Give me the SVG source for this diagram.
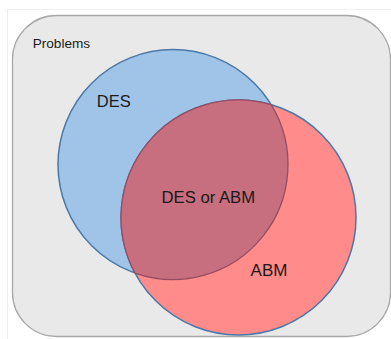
<svg xmlns="http://www.w3.org/2000/svg" width="391" height="339" viewBox="0 0 391 339">
  <style>
    .lbl { font-family: "Liberation Sans", Arial, sans-serif; fill: #1a1a1a; }
    .circle-stroke { stroke: #4a78a6; stroke-width: 1.5; }
  </style>
  <rect x="0" y="0" width="391" height="339" fill="#ffffff"/>
  <rect x="7.5" y="9.5" width="400" height="400" fill="none" stroke="#efefef" stroke-width="1"/>
  <g id="problems">
    <rect x="12.5" y="15.5" width="378" height="321" rx="44" ry="44" fill="#e9e9e9" stroke="#a8a8a8" stroke-width="1.3"/>
    <text class="lbl" x="32.7" y="48.3" font-size="13.6">Problems</text>
  </g>
  <g id="des">
    <circle cx="173" cy="164.5" r="115" fill="#9fc4e7" class="circle-stroke"/>
    <text class="lbl" x="113.8" y="106.7" font-size="16.5" text-anchor="middle">DES</text>
  </g>
  <g id="abm">
    <circle cx="238.5" cy="217.5" r="117.5" fill="#ff8b8b" class="circle-stroke"/>
    <text class="lbl" x="269" y="276" font-size="17" text-anchor="middle">ABM</text>
  </g>
  <g id="overlap">
    <path d="M 271.19 104.64 A 117.5 117.5 0 0 0 134.95 273.02 A 115 115 0 0 0 271.19 104.64 Z" fill="#c76e7f" stroke="#984c62" stroke-width="1.3"/>
    <text class="lbl" x="208.3" y="203.3" font-size="16.7" text-anchor="middle">DES or ABM</text>
  </g>
  <g id="connectors"></g>
</svg>
